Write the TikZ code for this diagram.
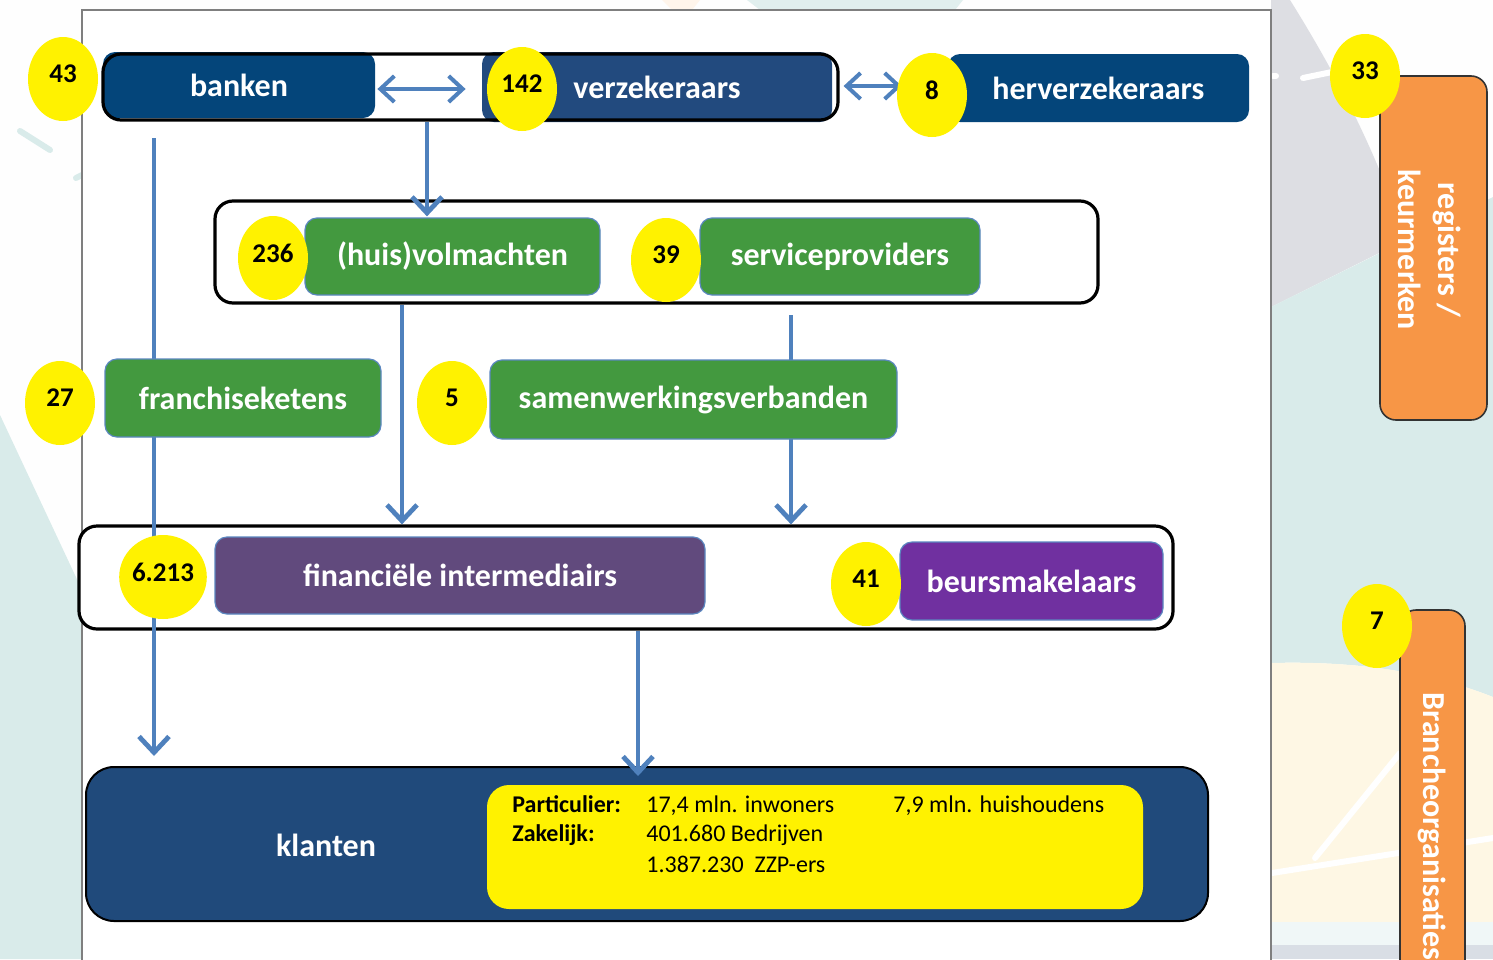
\documentclass[tikz,border=0pt]{standalone}
\usepackage{fontspec}
\setmainfont{Carlito}
\usetikzlibrary{shapes.geometric,arrows.meta,calc}
\definecolor{dblue}{HTML}{04457A}
\definecolor{vblue}{HTML}{224A7E}
\definecolor{kblue}{HTML}{204A7B}
\definecolor{grn}{HTML}{43993F}
\definecolor{purpA}{HTML}{614A7D}
\definecolor{purpB}{HTML}{7030A0}
\definecolor{orng}{HTML}{F79646}
\definecolor{arrowblue}{HTML}{4F81BD}
\definecolor{bgteal}{HTML}{D9EBEA}
\definecolor{bggrey}{HTML}{DDDEE3}
\definecolor{bgcream}{HTML}{FEF7E4}
\definecolor{bgband}{HTML}{D9DEE5}
\definecolor{framegrey}{HTML}{7F7F7F}
\definecolor{boxedge}{HTML}{5B87C0}
\tikzset{
  lbl/.style={text=white, font=\fontsize{16}{19}\selectfont\bfseries},
  bbox/.style={lbl, rectangle, rounded corners=6pt, inner sep=0pt},
  gbox/.style={bbox, fill=grn, draw=boxedge, line width=0.6pt},
  pbox/.style={bbox, draw=boxedge, line width=0.6pt},
  grp/.style={rectangle, rounded corners=9pt, draw=black, line width=1.6pt, inner sep=0pt},
  num/.style={ellipse, fill=yellow, minimum width=35pt, minimum height=42pt, inner sep=0pt,
    text depth=5pt, font=\fontsize{13.5}{15}\selectfont\bfseries, text=black},
  flow/.style={draw=arrowblue, line width=2.4pt, -{Straight Barb[length=8pt,width=15pt]}},
  flowline/.style={draw=arrowblue, line width=2.4pt},
  biarrow/.style={draw=arrowblue, line width=2pt, {Straight Barb[length=7pt,width=13pt]}-{Straight Barb[length=7pt,width=13pt]}},
  obox/.style={rectangle, rounded corners=8pt, fill=orng, draw=black!80, line width=0.8pt, inner sep=0pt},
  info/.style={anchor=base west, inner sep=0pt, text=black, font=\fontsize{12}{14}\selectfont},
  deco/.style={line width=3pt, line cap=round}
}
\begin{document}
\begin{tikzpicture}[x=0.5pt,y=-0.5pt]
\path[use as bounding box] (0,0) rectangle (1493,959);
\clip (0,0) rectangle (1493,959);
% background
\fill[white!97!bgteal] (0,0) rectangle (1493,959);
\fill[bgteal] (0,415) -- (82,590) -- (82,959) -- (0,959) -- cycle;
\draw[deco, bgteal] (20,131) -- (50,150);
\draw[deco, bgteal] (76,178) -- (82,175);
\fill[bgteal!80] (747,0) -- (963,0) -- (955,10) -- (760,10) -- cycle;
\fill[orange!8] (662,0) -- (700,0) -- (692,10) -- (672,10) -- cycle;
\fill[bggrey] (1271,0) -- (1290,0) .. controls (1340,80) and (1380,160) .. (1405,240) -- (1271,307) -- cycle;
\fill[bgteal] (1271,307) -- (1493,197) -- (1493,697) .. controls (1450,680) and (1380,660) .. (1271,663) -- cycle;
\fill[bgcream] (1271,663) .. controls (1380,660) and (1450,680) .. (1493,697) -- (1493,922) -- (1271,922) -- cycle;
\fill[white!60!bgteal] (1271,922) rectangle (1493,945);
\fill[bgband] (1271,945) rectangle (1493,959);
\draw[deco, white] (1273,76) -- (1276,76);
\draw[deco, white] (1303,78) -- (1332,72);
\draw[deco, white] (1272,873) -- (1493,838);
\draw[deco, white] (1315,858) -- (1400,753);
% main frame
\draw[framegrey, line width=1.2pt, fill=white] (82,10) rectangle (1271,990);
% containers
\node[grp, fill=white, minimum width=441.5pt, minimum height=51pt] (group2) at (656.5,252) {};
\node[grp, fill=white, minimum width=547pt, minimum height=51.5pt] (group3) at (626,577.5) {};
% klanten block
\node[rectangle, rounded corners=14pt, fill=kblue, draw=black, line width=1pt, minimum width=561pt, minimum height=77pt] (klanten) at (647,844) {};
\node[lbl, inner sep=0pt] (klantenlbl) at (326,845) {klanten};
\node[rectangle, rounded corners=11pt, fill=yellow, minimum width=328pt, minimum height=62pt] (info) at (815,847) {};
\node[info, font=\fontsize{12}{14}\selectfont\bfseries] (pl) at (512,812) {Particulier:};
\node[info] (p1) at (646,812) {17,4 mln. inwoners};
\node[info] (p2) at (893,812) {7,9 mln. huishoudens};
\node[info, font=\fontsize{12}{14}\selectfont\bfseries] (zl) at (512,841) {Zakelijk:};
\node[info] (z1) at (646,841) {401.680 Bedrijven};
\node[info] (z2) at (646,872) {1.387.230\ \ ZZP-ers};
% helper coordinates for connectors
\coordinate (t1) at (427,0);
\coordinate (c402) at (402,0);
\coordinate (s1) at (791,315);
\coordinate (b1) at (154,138);
\coordinate (f1) at (638,0);
% top row
\node[bbox, fill=dblue, minimum width=136pt, minimum height=33pt] (banken) at (239,85) {banken};
\node[bbox, fill=vblue, minimum width=175pt, minimum height=35pt] (verz) at (657,87) {verzekeraars};
\node[grp, minimum width=367.5pt, minimum height=33pt] (topgroup) at (470.5,87) {};
\node[bbox, fill=dblue, minimum width=150.5pt, minimum height=34pt] (herv) at (1098.5,88) {herverzekeraars};
% connectors
\draw[flow] (topgroup.south -| t1) -- ($(group2.north -| t1)+(0,17)$);
\draw[flow] (group2.south -| c402) -- (group3.north -| c402);
\draw[flowline] (s1) -- (s1 |- 0,360);
\draw[flow] (s1 |- 0,439) -- (group3.north -| s1);
\draw[flow] (b1) -- ($(klanten.north -| b1)+(0,-10)$);
\draw[flow] (group3.south -| f1) -- ($(klanten.north -| f1)+(0,10)$);
% row boxes
\node[gbox, minimum width=147.5pt, minimum height=38.5pt] (huis) at (452.5,256.5) {(huis)volmachten};
\node[gbox, minimum width=140pt, minimum height=38.5pt] (serv) at (840,256.5) {serviceproviders};
\node[gbox, minimum width=138pt, minimum height=39pt] (franch) at (243,398) {franchiseketens};
\node[gbox, minimum width=203.5pt, minimum height=39.5pt] (samen) at (693.5,399.5) {samenwerkingsverbanden};
\node[pbox, fill=purpA, minimum width=245pt, minimum height=38.5pt] (fin) at (460,575.5) {financiële intermediairs};
\node[pbox, fill=purpB, minimum width=131.5pt, minimum height=39pt] (beurs) at (1031.5,581) {beursmakelaars};
% double arrows
\draw[biarrow] ($(banken.east)+(2,4)$) -- ($(banken.east -| verz.west)+(-16,4)$);
\draw[biarrow] ($(topgroup.east)+(4,-1)$) -- ($(topgroup.east)+(62,-1)$);
% orange side boxes
\node[obox, minimum width=53.5pt, minimum height=172pt] (reg) at (1433.5,248) {};
\node[lbl, rotate=-90, align=center, font=\fontsize{16}{20}\selectfont\bfseries] (reglbl) at (1430,250) {registers /\\keurmerken};
\node[obox, minimum width=32.5pt, minimum height=190pt] (branche) at (1432.5,800) {};
\node[lbl, rotate=-90, anchor=west, inner sep=0pt] (branchelbl) at (1432,692) {Brancheorganisaties};
% number ellipses
\node[num] (n43) at (63,79) {43};
\node[num] (n142) at (522,89) {142};
\node[num] (n8) at (932,95) {8};
\node[num] (n33) at (1365,76) {33};
\node[num] (n236) at (273,258) {236};
\node[num] (n39) at (666,260) {39};
\node[num] (n27) at (60,403) {27};
\node[num] (n5) at (452,403) {5};
\node[num] (n6213) at (163,577) {6.213};
\node[num] (n41) at (866,584) {41};
\node[num] (n7) at (1377,626) {7};
\end{tikzpicture}
\end{document}
